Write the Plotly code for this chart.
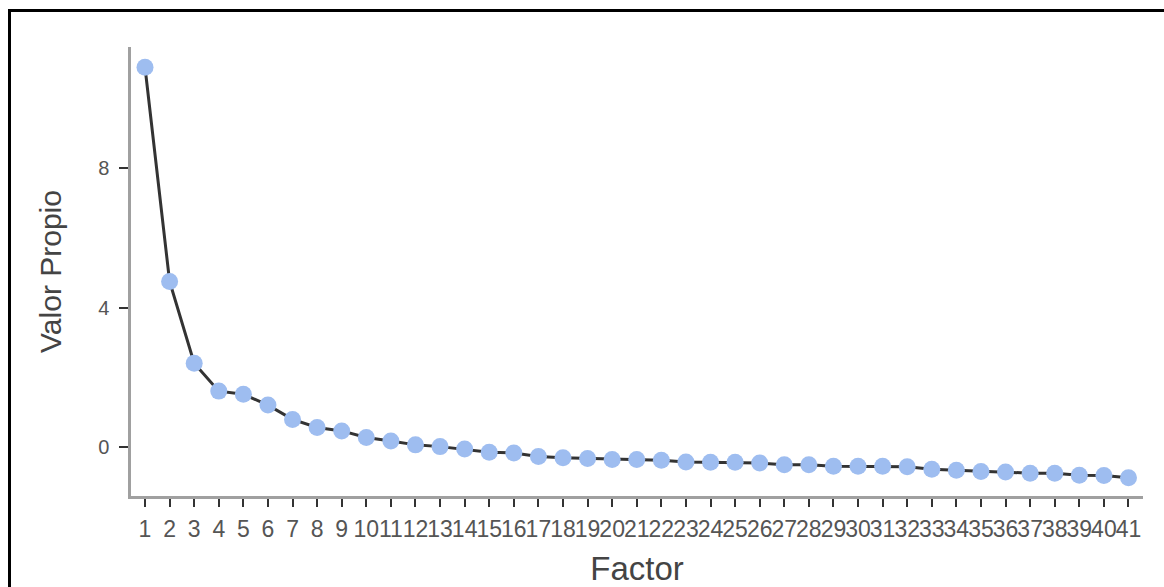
import plotly.graph_objects as go

factors = list(range(1, 42))
eigenvalues = [10.89, 4.75, 2.41, 1.61, 1.52, 1.21, 0.80, 0.57, 0.47, 0.28,
               0.18, 0.07, 0.02, -0.05, -0.14, -0.16, -0.26, -0.30, -0.32, -0.35,
               -0.35, -0.37, -0.42, -0.43, -0.43, -0.45, -0.50, -0.50, -0.54, -0.54,
               -0.54, -0.56, -0.63, -0.66, -0.69, -0.71, -0.74, -0.74, -0.80, -0.81,
               -0.87]
y_ticks = [0, 4, 8]
x_title = "Factor"
y_title = "Valor Propio"

W, H = 1164, 587
L, T, R, B = 131, 47, 21, 91
pw, ph = W - L - R, H - T - B

fig = go.Figure()
fig.add_trace(go.Scatter(
    x=factors, y=eigenvalues, mode="lines+markers",
    line=dict(color="#333333", width=3),
    marker=dict(color="#9ebdf0", size=17, line=dict(width=0)),
    showlegend=False,
))

def px_x(p):
    return (p - L) / pw

def px_y(p):
    return (H - B - p) / ph

fig.add_shape(type="rect", xref="paper", yref="paper",
              x0=px_x(9.5), x1=px_x(1180), y0=px_y(10.5), y1=px_y(620),
              line=dict(color="black", width=3), fillcolor="rgba(0,0,0,0)",
              layer="below")

fig.update_layout(
    width=W, height=H,
    margin=dict(l=L, r=R, t=T, b=B, autoexpand=False),
    paper_bgcolor="white", plot_bgcolor="white",
    font=dict(family="Liberation Sans, Arial, sans-serif", color="#444444"),
    xaxis=dict(
        range=[0.43, 41.59], tickmode="array", tickvals=factors,
        ticktext=[str(f) for f in factors], tickangle=0,
        showgrid=False, zeroline=False, showline=True,
        linecolor="#a0a0a0", linewidth=2.5,
        ticks="outside", ticklen=8, tickwidth=2, tickcolor="#333333",
        tickfont=dict(size=23, color="#555555"),
        ticklabelstandoff=3,
        title=dict(text=x_title, font=dict(size=33, color="#444444"), standoff=20),
        automargin=False,
    ),
    yaxis=dict(
        range=[-1.395, 11.47], tickmode="array", tickvals=y_ticks,
        showgrid=False, zeroline=False, showline=True,
        linecolor="#a0a0a0", linewidth=2.5,
        ticks="outside", ticklen=9, tickwidth=2, tickcolor="#333333",
        tickfont=dict(size=20, color="#555555"),
        ticklabelstandoff=6,
        title=dict(text=y_title, font=dict(size=30, color="#444444"), standoff=28),
        automargin=False,
    ),
)

fig.write_html("out.html", config={"displayModeBar": False},
               post_script="document.body.style.margin='0';")
